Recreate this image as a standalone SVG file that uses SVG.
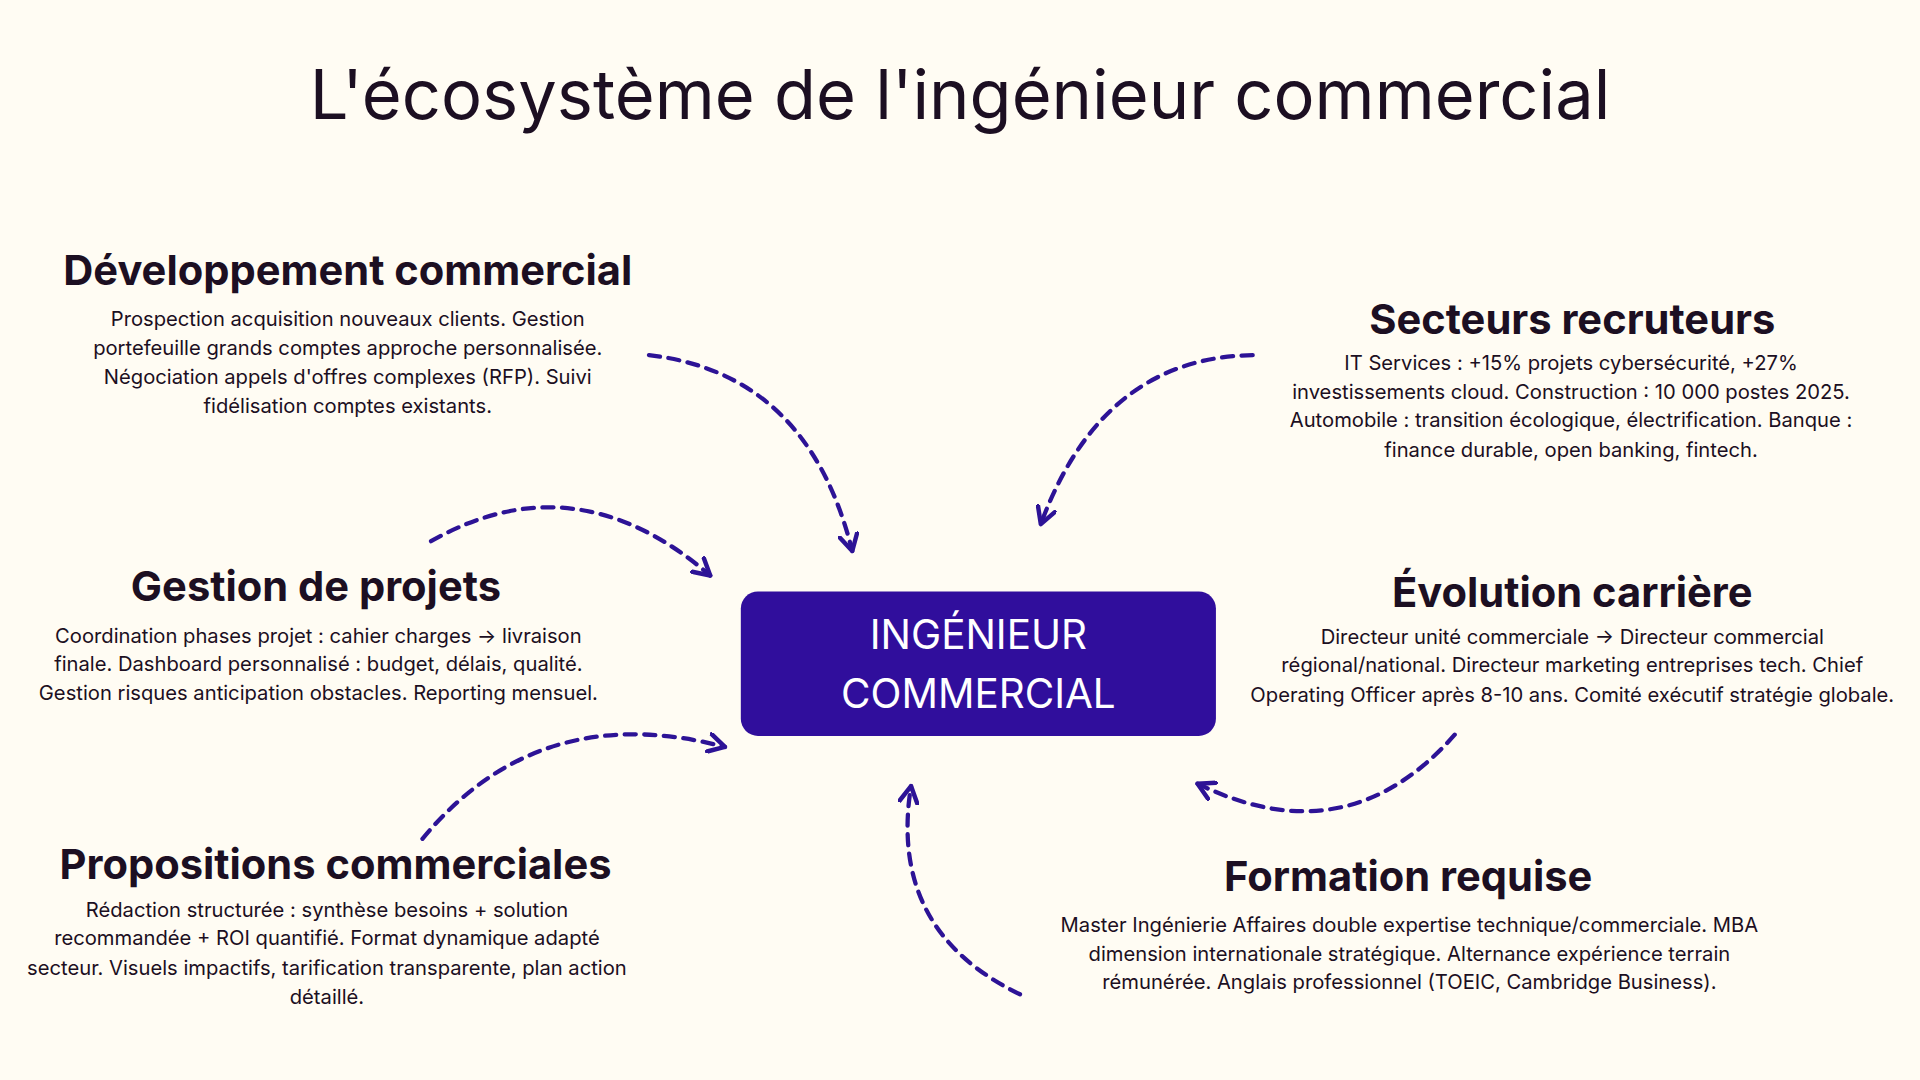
<svg xmlns="http://www.w3.org/2000/svg" width="1920" height="1080" viewBox="0 0 1920 1080">
<style>
.t{font-family:Inter,"Noto Sans","Liberation Sans",sans-serif;fill:#1c0f22;text-anchor:middle}
.h{font-size:34px;font-weight:700}
.b{font-size:16.5px}
.c{stroke:#2d1396;stroke-width:3.5;fill:none;stroke-dasharray:9 7;stroke-linecap:round}
</style>
<defs>
<marker id="ah" viewBox="0 0 12 12" refX="10" refY="6" markerWidth="5" markerHeight="5" orient="auto" markerUnits="strokeWidth">
<path d="M1,1 L10,6 L1,11" fill="none" stroke="#2d1396" stroke-width="2.5" stroke-linecap="round" stroke-linejoin="round"/>
</marker>
</defs>
<rect width="1920" height="1080" fill="#fffcf3"/>
<g transform="scale(1.2245)">
<text class="t" x="784" y="97" style="font-size:56px">L'écosystème de l'ingénieur commercial</text>
<g id="connectors">
<path class="c" marker-end="url(#ah)" d="M530,290 Q660,305 696,450"/>
<path class="c" marker-end="url(#ah)" d="M1023,290 Q900,292 850,428"/>
<path class="c" marker-end="url(#ah)" d="M352,442 Q470,375 580,470"/>
<path class="c" marker-end="url(#ah)" d="M345,685 Q440,570 592,610"/>
<path class="c" marker-end="url(#ah)" d="M1188,600 Q1100,700 978,640"/>
<path class="c" marker-end="url(#ah)" d="M833,812 Q725,760 744,642"/>
</g>
<g id="center">
<rect x="605" y="483" width="388" height="118" rx="14" fill="#300e9c"/>
<text class="t" x="799" y="530" style="font-size:33px;fill:#fff">INGÉNIEUR</text>
<text class="t" x="799" y="578" style="font-size:33px;fill:#fff">COMMERCIAL</text>
</g>
<g id="dev">
<text class="t h" x="284" y="233">Développement commercial</text>
<text class="t b" x="284" y="266">Prospection acquisition nouveaux clients. Gestion</text>
<text class="t b" x="284" y="290">portefeuille grands comptes approche personnalisée.</text>
<text class="t b" x="284" y="314">Négociation appels d'offres complexes (RFP). Suivi</text>
<text class="t b" x="284" y="337">fidélisation comptes existants.</text>
</g>
<g id="secteurs">
<text class="t h" x="1284" y="273">Secteurs recruteurs</text>
<text class="t b" x="1283" y="302">IT Services : +15% projets cybersécurité, +27%</text>
<text class="t b" x="1283" y="326">investissements cloud. Construction : 10 000 postes 2025.</text>
<text class="t b" x="1283" y="349">Automobile : transition écologique, électrification. Banque :</text>
<text class="t b" x="1283" y="373">finance durable, open banking, fintech.</text>
</g>
<g id="gestion">
<text class="t h" x="258" y="491">Gestion de projets</text>
<text class="t b" x="260" y="525">Coordination phases projet : cahier charges → livraison</text>
<text class="t b" x="260" y="548">finale. Dashboard personnalisé : budget, délais, qualité.</text>
<text class="t b" x="260" y="572">Gestion risques anticipation obstacles. Reporting mensuel.</text>
</g>
<g id="evolution">
<text class="t h" x="1284" y="496">Évolution carrière</text>
<text class="t b" x="1284" y="526">Directeur unité commerciale → Directeur commercial</text>
<text class="t b" x="1284" y="549">régional/national. Directeur marketing entreprises tech. Chief</text>
<text class="t b" x="1284" y="573">Operating Officer après 8-10 ans. Comité exécutif stratégie globale.</text>
</g>
<g id="propositions">
<text class="t h" x="274" y="718">Propositions commerciales</text>
<text class="t b" x="267" y="749">Rédaction structurée : synthèse besoins + solution</text>
<text class="t b" x="267" y="772">recommandée + ROI quantifié. Format dynamique adapté</text>
<text class="t b" x="267" y="796">secteur. Visuels impactifs, tarification transparente, plan action</text>
<text class="t b" x="267" y="820">détaillé.</text>
</g>
<g id="formation">
<text class="t h" x="1150" y="728">Formation requise</text>
<text class="t b" x="1151" y="761">Master Ingénierie Affaires double expertise technique/commerciale. MBA</text>
<text class="t b" x="1151" y="785">dimension internationale stratégique. Alternance expérience terrain</text>
<text class="t b" x="1151" y="808">rémunérée. Anglais professionnel (TOEIC, Cambridge Business).</text>
</g>
</g>
</svg>
